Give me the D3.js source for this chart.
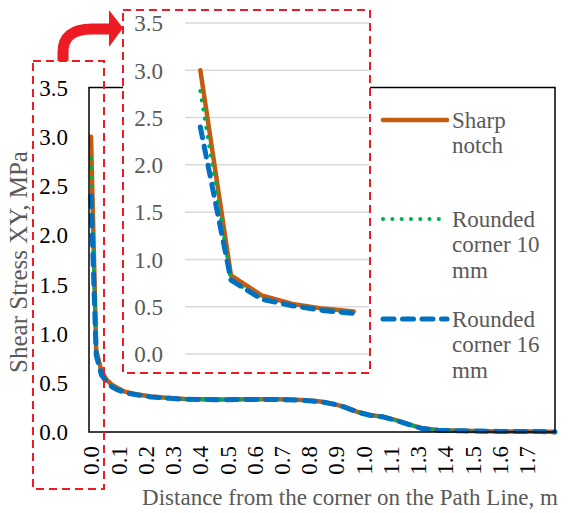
<!DOCTYPE html>
<html>
<head>
<meta charset="utf-8">
<script src="https://cdn.jsdelivr.net/npm/d3@7"></script>
<style>
  html, body { margin: 0; padding: 0; background: #fff; }
  svg { display: block; }
</style>
</head>
<body>
<svg id="chart" width="575" height="513" font-family="Liberation Serif"></svg>
<script>
// ---------------- data ----------------
const distance = [0, 0.02, 0.04, 0.06, 0.08, 0.10, 0.13, 0.18, 0.23, 0.30, 0.36, 0.48, 0.60, 0.72,
  0.81, 0.88, 0.93, 0.97, 1.02, 1.07, 1.12, 1.17, 1.22, 1.27, 1.33, 1.42, 1.57, 1.72, 1.78];
const sharpNotch = [3.00, 0.83, 0.62, 0.53, 0.48, 0.45, 0.41, 0.38, 0.36, 0.345, 0.335, 0.330, 0.332, 0.333,
  0.325, 0.310, 0.285, 0.257, 0.206, 0.172, 0.155, 0.120, 0.078, 0.037, 0.020, 0.013, 0.006, 0.005, 0.000];
const rounded10 = [2.78, 0.78, 0.59, 0.52, 0.47, 0.44, 0.405, 0.378, 0.358, 0.343, 0.334, 0.329, 0.331, 0.332,
  0.324, 0.309, 0.284, 0.256, 0.205, 0.171, 0.154, 0.119, 0.077, 0.036, 0.019, 0.012, 0.006, 0.005, 0.000];
const rounded16 = [2.40, 0.78, 0.58, 0.51, 0.46, 0.43, 0.40, 0.376, 0.356, 0.342, 0.333, 0.328, 0.330, 0.331,
  0.323, 0.308, 0.283, 0.255, 0.204, 0.170, 0.153, 0.118, 0.076, 0.035, 0.019, 0.012, 0.006, 0.005, 0.000];
const insetCount = 6; // inset shows the first six samples
const seriesNames = [["Sharp", "notch"], ["Rounded", "corner 10", "mm"], ["Rounded", "corner 16", "mm"]];
const xTickLabels = ["0.0", "0.1", "0.2", "0.3", "0.4", "0.5", "0.6", "0.7", "0.8", "0.9", "1.0", "1.1",
  "1.3", "1.4", "1.5", "1.6", "1.7"];
const xTickStep = 0.1045; // sample spacing of the category labels (m)
const yTicks = [0, 0.5, 1.0, 1.5, 2.0, 2.5, 3.0, 3.5];

// ---------------- styles ----------------
const FONT = "Liberation Serif";
const series = [
  { name: seriesNames[0], values: sharpNotch, color: "#C55A11", width: 4.5, dash: null, cap: "round" },
  { name: seriesNames[1], values: rounded10, color: "#00B050", width: 4, dash: "0.1,9.2", cap: "round" },
  { name: seriesNames[2], values: rounded16, color: "#0070C0", width: 5, dash: "11,8.5", cap: "round" }
];
const RED = "#ED1C24";

const svg = d3.select("#chart");

function serif(sel, size, color) {
  return sel.attr("font-family", FONT).style("font-family", FONT)
    .attr("font-size", size).style("font-size", size + "px").attr("fill", color);
}

// ---------------- main chart ----------------
const plot = { left: 89, right: 555, top: 87.5, bottom: 432 };
const x = d3.scaleLinear().domain([0, 1.78]).range([91, 555]);
const y = d3.scaleLinear().domain([0, 3.5]).range([432, 87.5]);

const line = s => d3.line()
  .x((d, i) => x(distance[i]))
  .y(d => y(d))(s.values);

const main = svg.append("g");
series.forEach(s => {
  main.append("path")
    .attr("d", line(s))
    .attr("fill", "none")
    .attr("stroke", s.color)
    .attr("stroke-width", s.width)
    .attr("stroke-linecap", s.cap)
    .attr("stroke-linejoin", "round")
    .attr("stroke-dasharray", s.dash);
});

// plot border
main.append("rect")
  .attr("x", plot.left).attr("y", plot.top)
  .attr("width", plot.right - plot.left).attr("height", plot.bottom - plot.top)
  .attr("fill", "none").attr("stroke", "#000").attr("stroke-width", 1.5);

// y axis labels
const yAxis = d3.axisLeft(y).tickValues(yTicks).tickFormat(d3.format(".1f")).tickSize(0).tickPadding(0);
svg.append("g")
  .attr("transform", "translate(68,0)")
  .call(yAxis)
  .attr("font-family", FONT).attr("font-size", 23)
  .call(g => g.select(".domain").remove())
  .call(g => serif(g.selectAll("text"), 23, "#000").attr("dy", "0.34em"));

// x axis labels
const xTickValues = d3.range(xTickLabels.length).map(i => i * xTickStep);
const xAxis = d3.axisBottom(x).tickValues(xTickValues)
  .tickFormat((d, i) => xTickLabels[i]).tickSize(0).tickPadding(0);
svg.append("g")
  .attr("transform", "translate(0,446)")
  .call(xAxis)
  .attr("font-family", FONT).attr("font-size", 23)
  .call(g => g.select(".domain").remove())
  .call(g => serif(g.selectAll("text"), 23, "#000")
    .attr("text-anchor", "end")
    .attr("transform", "rotate(-90)")
    .attr("x", 0).attr("y", 0).attr("dy", "0.34em"));

// axis titles
serif(svg.append("text"), 23, "#595959")
  .attr("x", 350).attr("y", 505)
  .attr("text-anchor", "middle")
  .text("Distance from the corner on the Path Line, m");

serif(svg.append("text"), 25, "#595959")
  .attr("transform", "translate(27,262) rotate(-90)")
  .attr("text-anchor", "middle")
  .text("Shear Stress XY, MPa");

// small dashed highlight around the y-axis labels
svg.append("rect")
  .attr("x", 33).attr("y", 61).attr("width", 71).attr("height", 428)
  .attr("fill", "none").attr("stroke", RED).attr("stroke-width", 2)
  .attr("stroke-dasharray", "8,5");

// ---------------- inset ----------------
const inset = svg.append("g");
inset.append("rect")
  .attr("x", 123).attr("y", 10).attr("width", 247).attr("height", 363)
  .attr("fill", "#fff");

const ix = d3.scalePoint().domain(d3.range(insetCount)).range([185, 369]).padding(0.5);
const iy = d3.scaleLinear().domain([0, 3.5]).range([354, 23]);

inset.append("g")
  .selectAll("line").data(yTicks).join("line")
  .attr("x1", 185).attr("x2", 369)
  .attr("y1", d => iy(d)).attr("y2", d => iy(d))
  .attr("stroke", "#D9D9D9").attr("stroke-width", 1.5);

const iyAxis = d3.axisLeft(iy).tickValues(yTicks).tickFormat(d3.format(".1f")).tickSize(0).tickPadding(0);
inset.append("g")
  .attr("transform", "translate(163,0)")
  .call(iyAxis)
  .attr("font-family", FONT).attr("font-size", 23)
  .call(g => g.select(".domain").remove())
  .call(g => serif(g.selectAll("text"), 23, "#595959").attr("dy", "0.34em"));

series.forEach(s => {
  inset.append("path")
    .attr("d", d3.line().x((d, i) => ix(i)).y(d => iy(d))(s.values.slice(0, insetCount)))
    .attr("fill", "none")
    .attr("stroke", s.color)
    .attr("stroke-width", s.width)
    .attr("stroke-linecap", s.cap)
    .attr("stroke-linejoin", "round")
    .attr("stroke-dasharray", s.dash);
});

inset.append("rect")
  .attr("x", 123).attr("y", 10).attr("width", 247).attr("height", 363)
  .attr("fill", "none").attr("stroke", RED).attr("stroke-width", 2)
  .attr("stroke-dasharray", "8,5");

// ---------------- legend ----------------
const legendY = [120, 219, 319];
const legend = svg.append("g");
series.forEach((s, i) => {
  legend.append("line")
    .attr("x1", 383).attr("x2", 447)
    .attr("y1", legendY[i]).attr("y2", legendY[i])
    .attr("stroke", s.color).attr("stroke-width", s.width)
    .attr("stroke-linecap", s.cap).attr("stroke-dasharray", s.dash);
  s.name.forEach((ln, j) => {
    serif(legend.append("text"), 23, "#595959")
      .attr("x", 452).attr("y", legendY[i] + 7.5 + j * 25.5)
      .text(ln);
  });
});

// ---------------- curved arrow ----------------
svg.append("path")
  .attr("d", "M63,61 L63,52 Q63,29 92,29 L111,29")
  .attr("fill", "none").attr("stroke", RED).attr("stroke-width", 11);
svg.append("path")
  .attr("d", "M109,10 L123,28 L109,47 Z")
  .attr("fill", RED);
</script>
</body>
</html>
